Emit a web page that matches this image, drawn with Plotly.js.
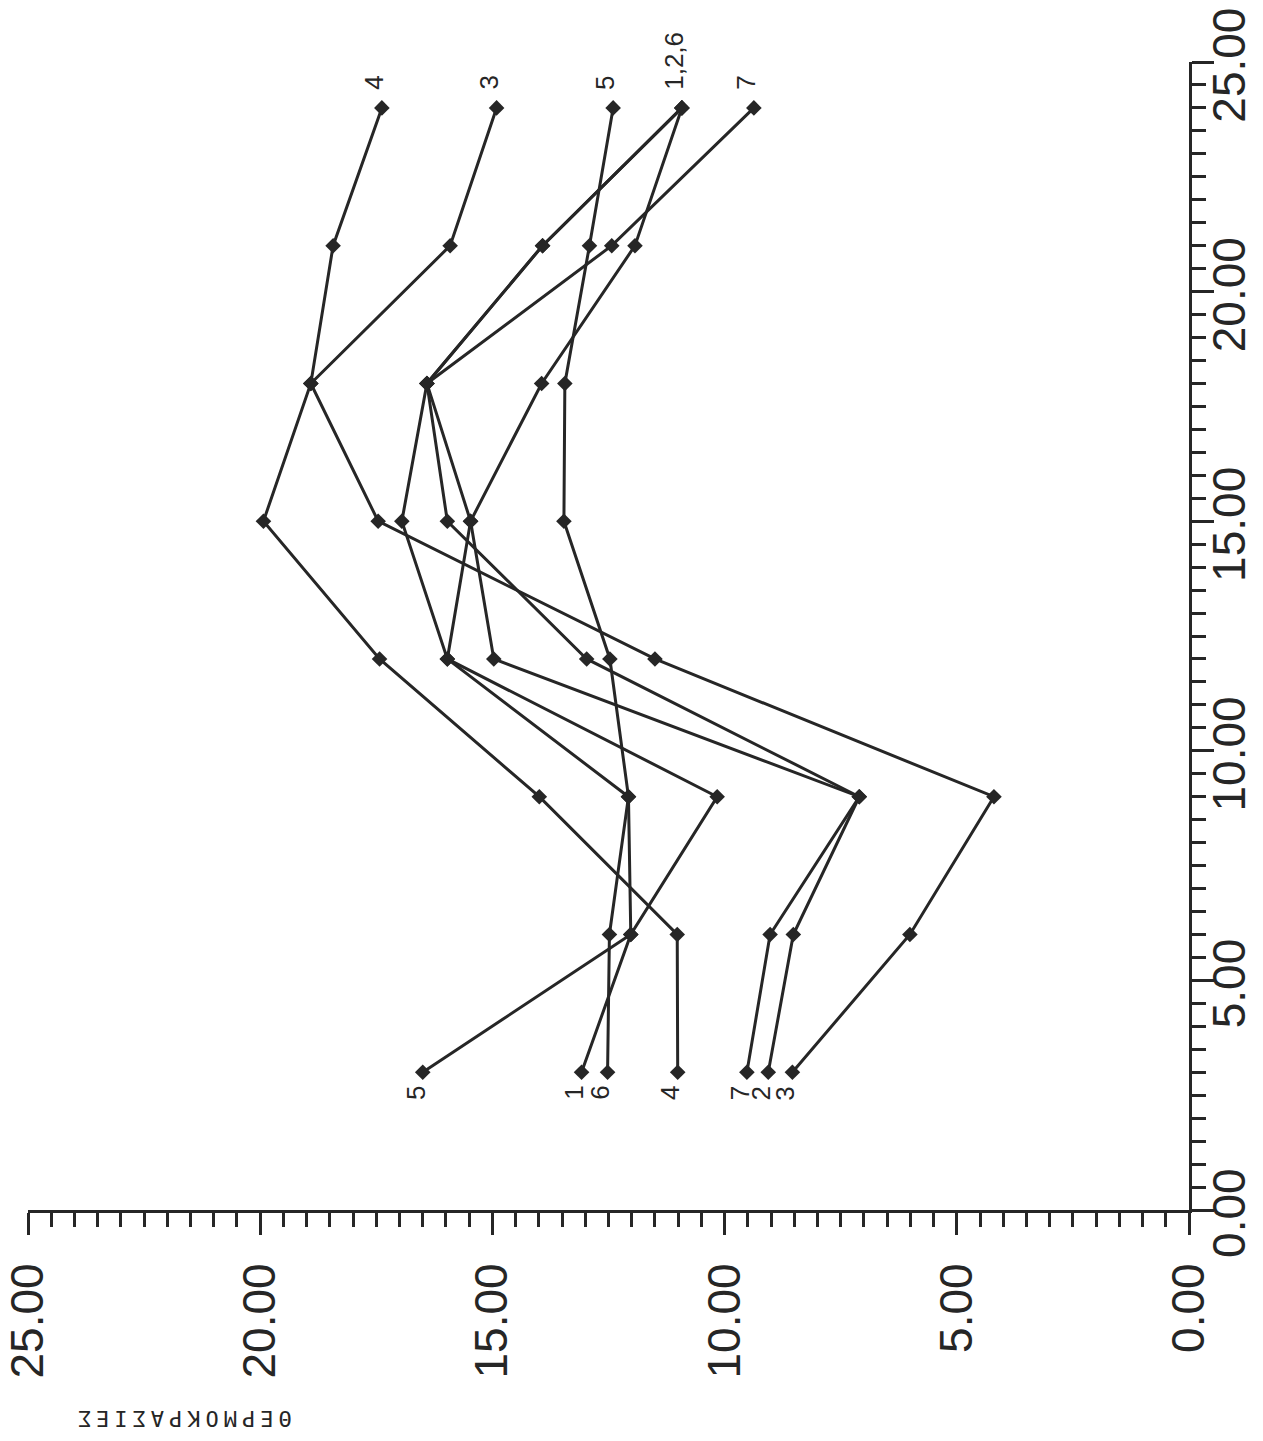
<!DOCTYPE html>
<html><head><meta charset="utf-8">
<script src="https://cdn.plot.ly/plotly-3.0.1.min.js"></script>
<style>html,body{margin:0;padding:0;background:#fff}#chart{width:1263px;height:1441px}</style>
</head><body><div id="chart"></div>
<script>
// time points (vertical axis in the picture)
const times = [3, 6, 9, 12, 15, 18, 21, 24];
// temperature series (horizontal axis in the picture, increasing to the left)
const series1 = [13.08, 12.02, 10.16, 15.97, 16.95, 16.41, 13.92, 10.92];
const series2 = [9.06, 8.52, 7.10, 14.97, 15.47, 16.41, 13.92, 10.92];
const series3 = [8.54, 6.01, 4.20, 11.50, 17.46, 18.91, 15.91, 14.91];
const series4 = [11.01, 11.02, 13.99, 17.43, 19.93, 18.91, 18.43, 17.38];
const series5 = [16.50, 12.02, 12.07, 12.47, 13.46, 13.44, 12.91, 12.40];
const series6 = [12.52, 12.48, 12.07, 15.97, 15.47, 13.94, 11.93, 10.92];
const series7 = [9.52, 9.02, 7.10, 12.97, 15.97, 16.41, 12.43, 9.37];
const seriesNames = ['1', '2', '3', '4', '5', '6', '7'];
const allSeries = [series1, series2, series3, series4, series5, series6, series7];
// labels at the last time point: text and the series whose end it marks
const endLabelTexts = ['4', '3', '5', '1,2,6', '7'];
const endLabelSeries = ['4', '3', '5', '1', '7'];
// axis ticks
const tickValues = [0, 5, 10, 15, 20, 25];
const tickLabels = ['0.00', '5.00', '10.00', '15.00', '20.00', '25.00'];
const tempTitle = 'ΘΕΡΜΟΚΡΑΣΙΕΣ';

const ink = '#262626';
const traces = allSeries.map((vals, i) => ({
  type: 'scatter', mode: 'lines+markers', name: seriesNames[i],
  x: vals, y: times,
  line: {color: ink, width: 3},
  marker: {symbol: 'diamond', size: 12, color: ink},
  showlegend: false, hoverinfo: 'x+y+name'
}));

const annotations = [];
allSeries.forEach((vals, i) => {
  annotations.push({
    x: vals[0], y: times[0], xref: 'x', yref: 'y', text: seriesNames[i],
    showarrow: false, textangle: -90, xanchor: 'center', yanchor: 'top',
    xshift: -7, yshift: -12, font: {family: 'Liberation Sans, Arial, sans-serif', size: 26, color: ink}
  });
});
endLabelTexts.forEach((t, k) => {
  const vals = allSeries[seriesNames.indexOf(endLabelSeries[k])];
  annotations.push({
    x: vals[vals.length - 1], y: times[times.length - 1], xref: 'x', yref: 'y', text: t,
    showarrow: false, textangle: -90, xanchor: 'center', yanchor: 'bottom',
    xshift: -8, yshift: 16, font: {family: 'Liberation Sans, Arial, sans-serif', size: 26, color: ink}
  });
});
annotations.push({
  x: 0.133, y: -0.181, xref: 'paper', yref: 'paper', text: tempTitle,
  showarrow: false, textangle: 180, xanchor: 'center', yanchor: 'middle',
  font: {family: 'DejaVu Sans Mono, monospace', size: 22, color: ink}
});

const axisCommon = {
  showgrid: false, zeroline: false, showline: true, linecolor: ink, linewidth: 3,
  ticks: 'outside', ticklen: 22, tickwidth: 3, tickcolor: ink,
  tickmode: 'array', tickvals: tickValues, ticktext: tickLabels, tickangle: -90,
  tickfont: {family: 'Liberation Sans, Arial, sans-serif', size: 46, color: ink},
  minor: {dtick: 0.5, ticks: 'outside', ticklen: 14, tickwidth: 3, tickcolor: ink, showgrid: false},
  range: [0, 25], fixedrange: true
};

const layout = {
  width: 1263, height: 1441,
  margin: {l: 28, r: 74, t: 62, b: 231},
  paper_bgcolor: '#fff', plot_bgcolor: '#fff',
  xaxis: Object.assign({}, axisCommon, {range: [25, 0], side: 'bottom', ticklabelstandoff: 10}),
  yaxis: Object.assign({}, axisCommon, {side: 'right', ticklabelstandoff: -24, ticklabelshift: 10}),
  annotations: annotations,
  showlegend: false
};

Plotly.newPlot('chart', traces, layout, {displayModeBar: false, staticPlot: true}).then(() => {
  document.querySelectorAll('.annotation-text').forEach(el => {
    if (el.textContent === tempTitle) el.setAttribute('letter-spacing', '5px');
  });
});
</script>
</body></html>
